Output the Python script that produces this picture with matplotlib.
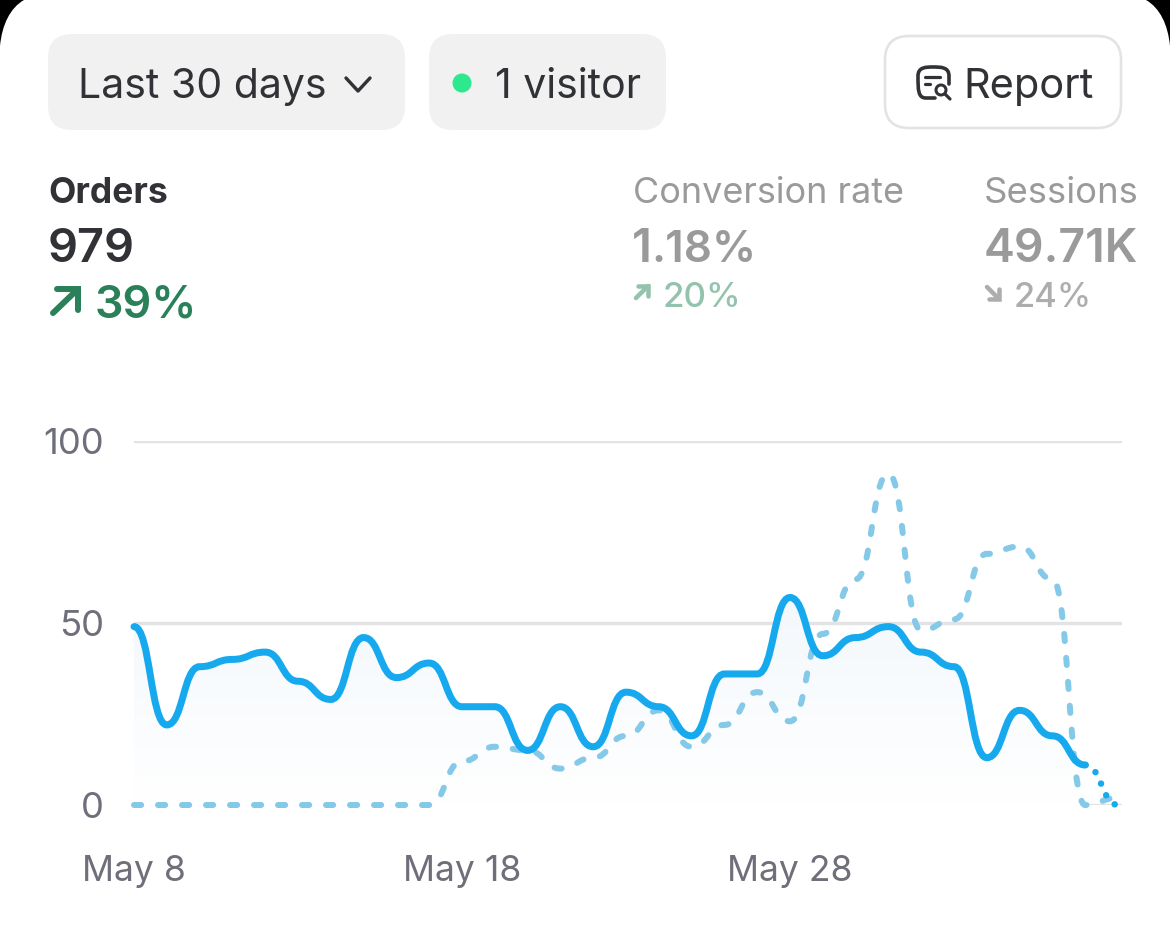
#!/usr/bin/env python3
"""Orders dashboard card: UI header plus a two-series smoothed line chart."""

import numpy as np
import matplotlib
matplotlib.use("Agg")
import matplotlib.pyplot as plt
from matplotlib.patches import Circle, FancyBboxPatch, PathPatch
from matplotlib.path import Path

# --- Data ---
days = list(range(31))
orders = [49, 22, 38, 40, 42, 34, 29, 46, 35, 39, 27, 27, 15, 27, 16, 31,
          27, 19, 36, 36, 57, 41, 46, 49, 42, 38, 13, 26, 19, 11, 0]
previous = [0, 0, 0, 0, 0, 0, 0, 0, 0, 0, 12, 16, 15, 10, 13, 19,
            26, 16, 22, 31, 23, 47, 62, 91, 48, 51, 69, 71, 62, 0, 2]
y_ticks = [0, 50, 100]
x_ticks = [0, 10, 20]
x_labels = ["May 8", "May 18", "May 28"]
LAST_COMPLETE = 29  # the final day is still in progress, drawn dotted

plt.rcParams["font.family"] = ["Inter", "DejaVu Sans"]

W, H = 1170, 942
DARK = "#303236"
GREY = "#9a9a9a"
BLUE = "#17a9ee"
PALE = "#85c9e8"
GRID = "#e3e3e5"
TICK = "#6f6f7b"


def px(n):
    # pixels to points at dpi 100
    return n * 0.72


def curve_path(x, y, start=0, end=None, close_at=None):
    """Bezier path through the points, flat at every point (bump-x line)."""
    end = len(x) - 1 if end is None else end
    verts = [(x[start], y[start])]
    codes = [Path.MOVETO]
    for i in range(start, end):
        mid = (x[i] + x[i + 1]) / 2
        verts += [(mid, y[i]), (mid, y[i + 1]), (x[i + 1], y[i + 1])]
        codes += [Path.CURVE4] * 3
    if close_at is not None:
        verts += [(x[end], close_at), (x[start], close_at), (x[start], y[start])]
        codes += [Path.LINETO, Path.LINETO, Path.CLOSEPOLY]
    return Path(verts, codes)


fig = plt.figure(figsize=(W / 100, H / 100), dpi=100, facecolor="white")

# --- Card chrome, laid out in pixels ---
ui = fig.add_axes([0, 0, 1, 1])
ui.set_xlim(0, W)
ui.set_ylim(H, 0)
ui.axis("off")

# black screen corners
ui.add_patch(PathPatch(Path([(0, 0), (24, 0), (10, 8), (2, 25), (0, 46), (0, 0)],
                            [Path.MOVETO, Path.LINETO, Path.CURVE4, Path.CURVE4, Path.CURVE4, Path.CLOSEPOLY]),
                       fc="black", ec="none"))
ui.add_patch(PathPatch(Path([(W, 0), (W - 24, 0), (W - 10, 8), (W - 2, 25), (W, 46), (W, 0)],
                            [Path.MOVETO, Path.LINETO, Path.CURVE4, Path.CURVE4, Path.CURVE4, Path.CLOSEPOLY]),
                       fc="black", ec="none"))


def pill(x0, x1, y0, y1, fc, ec="none", lw=0):
    ui.add_patch(FancyBboxPatch((x0 + 24, y0 + 24), x1 - x0 - 48, y1 - y0 - 48,
                                boxstyle="round,pad=24,rounding_size=24", fc=fc, ec=ec, lw=lw))


pill(48, 405, 34, 130, "#f1f1f2")
pill(429, 666, 34, 130, "#f1f1f2")
pill(885, 1121, 36, 128, "white", ec=GRID, lw=px(2.6))

ui.text(78, 98, "Last 30 days", fontsize=px(41), color=DARK, va="baseline")
ui.plot([346, 358, 370], [78, 91, 78], color=DARK, lw=px(3.4), solid_capstyle="round", solid_joinstyle="round")
ui.add_patch(Circle((462, 83), 9.5, fc="#2ee88e", ec="none"))
ui.text(495, 98, "1 visitor", fontsize=px(41), color=DARK, va="baseline")
ui.text(963, 98, "Report", fontsize=px(41.5), color=DARK, va="baseline")

# report icon: open rounded square, two text lines, magnifier
ui.add_patch(PathPatch(Path([(935, 98), (926, 98), (918, 98), (918, 90), (918, 76), (918, 67), (926, 67), (933, 67),
                             (941, 67), (949, 67), (949, 76), (949, 84)],
                            [Path.MOVETO, Path.LINETO, Path.CURVE4, Path.CURVE4, Path.LINETO, Path.CURVE4, Path.CURVE4,
                             Path.LINETO, Path.CURVE4, Path.CURVE4, Path.CURVE4, Path.LINETO]),
                       fc="none", ec=DARK, lw=px(3.6), capstyle="round"))
ui.plot([925, 940], [77, 77], color=DARK, lw=px(3.2), solid_capstyle="round")
ui.plot([925, 930], [84, 84], color=DARK, lw=px(3.2), solid_capstyle="round")
ui.add_patch(Circle((941, 90), 5, fc="white", ec=DARK, lw=px(3)))
ui.plot([945, 950], [94, 99], color=DARK, lw=px(3.2), solid_capstyle="round")


def arrow(x0, y0, x1, y1, color, lw, down=False):
    # diagonal shaft with a square corner head at the (x1, y1) end
    ui.plot([x0, x1], [y0, y1], color=color, lw=px(lw), solid_capstyle="round")
    head = (x1 - x0) * 0.85
    if down:
        ui.plot([x1 - head, x1, x1], [y1, y1, y1 - head], color=color, lw=px(lw),
                solid_capstyle="round", solid_joinstyle="miter")
    else:
        ui.plot([x1 - head, x1, x1], [y1, y1, y1 + head], color=color, lw=px(lw),
                solid_capstyle="round", solid_joinstyle="miter")


ui.text(48, 203, "Orders", fontsize=px(35.5), color=DARK, weight="bold", va="baseline")
ui.text(48, 262, "979", fontsize=px(47), color=DARK, weight="semibold", va="baseline")
arrow(53, 313, 78, 289, "#2a8059", 6)
ui.text(95, 317, "39%", fontsize=px(45), color="#2a8059", weight="semibold", va="baseline")

ui.text(633, 203, "Conversion rate", fontsize=px(36), color=GREY, va="baseline")
# the leading "1." sits tight in the original, so the "1" is set apart
ui.text(632, 262, "1", fontsize=px(47), color=GREY, weight="semibold", va="baseline")
ui.text(651, 262, ".18%", fontsize=px(44), color=GREY, weight="semibold", va="baseline")
arrow(636, 298, 648, 286, "#93c3ad", 4.5)
ui.text(663, 307, "20%", fontsize=px(35), color="#93c3ad", weight="medium", va="baseline")

ui.text(984, 203, "Sessions", fontsize=px(36.5), color=GREY, va="baseline")
ui.text(984, 262, "49.71K", fontsize=px(46.5), color=GREY, weight="semibold", va="baseline")
arrow(987, 287, 999, 299, "#adadad", 4.5, down=True)
ui.text(1014, 307, "24%", fontsize=px(34.5), color="#adadad", weight="medium", va="baseline")

# --- Chart ---
left, right, top, bottom = 134, 1122, 441, 805
ax = fig.add_axes([left / W, 1 - bottom / H, (right - left) / W, (bottom - top) / H], facecolor="none")

fill_path = curve_path(days, orders, 0, LAST_COMPLETE, close_at=0)
gradient = np.linspace([1.0, 1.0, 1.0], [0.955, 0.972, 0.987], 64)[:, None, :]
image = ax.imshow(gradient, origin="lower", aspect="auto", zorder=1,
                  extent=(days[0], days[LAST_COMPLETE], 0, max(orders)))
image.set_clip_path(PathPatch(fill_path, transform=ax.transData))

ax.set_xlim(0, (right - left) / 32.8)
ax.set_ylim(0, 100)
ax.set_yticks(y_ticks)
ax.set_xticks(x_ticks)
ax.set_xticklabels(x_labels)
ax.grid(axis="y", color=GRID, lw=px(3.4), zorder=0)
ax.set_axisbelow(True)
ax.tick_params(axis="y", length=0, pad=px(30), labelsize=px(36.5), labelcolor=TICK)
ax.tick_params(axis="x", length=0, pad=px(50), labelsize=px(35.5), labelcolor=TICK)
for spine in ax.spines.values():
    spine.set_visible(False)

ax.add_patch(PathPatch(curve_path(days, previous), fc="none", ec=PALE, lw=px(6), capstyle="round",
                       ls=(0, (1.2, 2.8)), clip_on=False, zorder=2))
ax.add_patch(PathPatch(curve_path(days, orders, 0, LAST_COMPLETE), fc="none", ec=BLUE, lw=px(7), capstyle="round",
                       clip_on=False, zorder=3))
ax.add_patch(PathPatch(curve_path(days, orders, LAST_COMPLETE, None), fc="none", ec=BLUE, lw=px(6.5), capstyle="round",
                       ls=(1.9, (0.01, 1.95)), clip_on=False, zorder=3))

fig.savefig("out.png", dpi=100)
